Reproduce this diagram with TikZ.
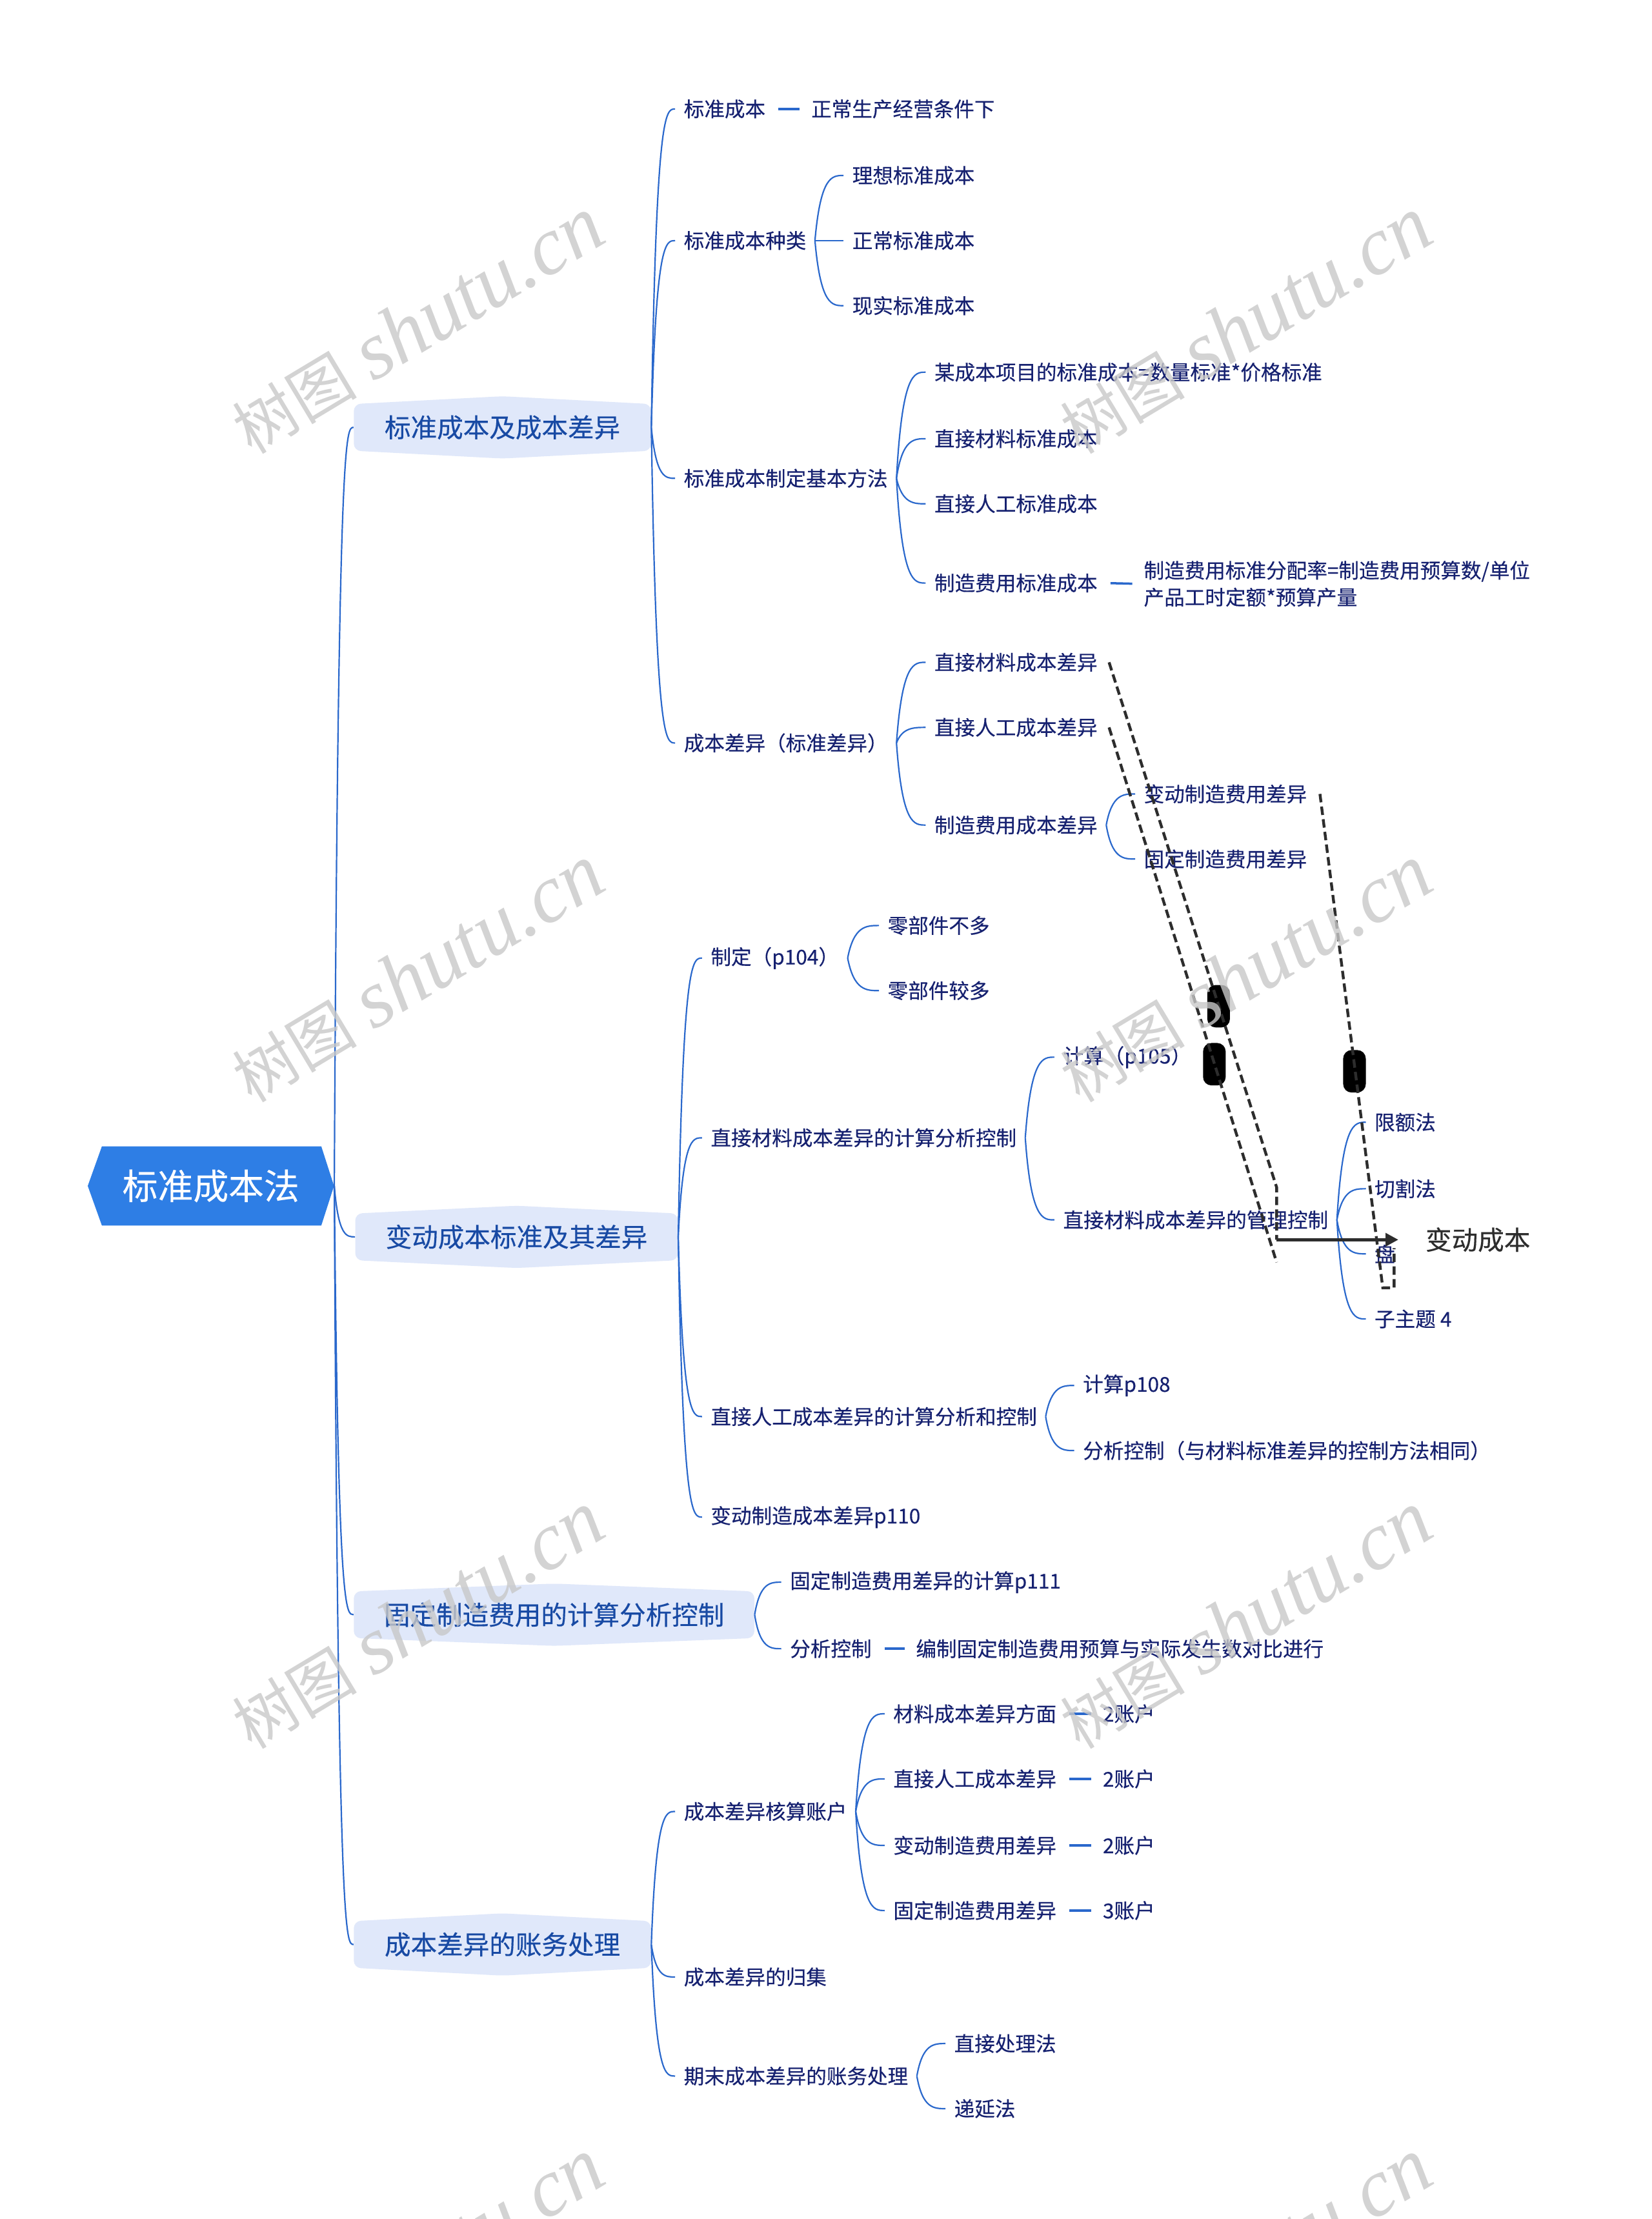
\documentclass[tikz,border=0pt]{standalone}
\usepackage{fontspec}
\setmainfont{Noto Sans CJK SC}[FakeBold=0.3]
\newfontfamily\wmlat{Liberation Serif}
\newfontfamily\wmcjk{Noto Sans CJK SC}
\usetikzlibrary{calc,arrows.meta}
\definecolor{navy}{RGB}{22,33,112}
\definecolor{l1txt}{RGB}{24,74,164}
\definecolor{lnkc}{RGB}{42,104,204}
\definecolor{rootc}{RGB}{46,126,229}
\definecolor{l1fill}{RGB}{224,232,250}
\definecolor{wmc}{RGB}{200,200,200}
\definecolor{dk}{RGB}{45,45,45}
\newcommand\mmlink[2]{\draw[lnk] let \p1=(#1.east),\p2=(#2.west) in (\p1) .. controls ({\x1+0.2*(\x2-\x1)},\y2) and ({\x1+0.6*(\x2-\x1)},\y2) .. (\p2);}
\newcommand\Lone[5]{%
  \fill[l1fill,rounded corners=5pt] (#2,#4-16.5) -- ({(#2+#3)/2},#4-22) -- (#3,#4-16.5) -- (#3,#4+16.5) -- ({(#2+#3)/2},#4+22) -- (#2,#4+16.5) -- cycle;
  \node[l1t,minimum width={(#3)-(#2)}] (#1) at ({(#2+#3)/2},#4) {#5};}
\begin{document}
\begin{tikzpicture}[x=1pt,y=-1pt,
  tx/.style={anchor=west,inner xsep=6pt,inner ysep=2pt,text=navy,font=\fontsize{14.4pt}{19pt}\selectfont},
  l1t/.style={inner sep=0pt,minimum height=33pt,text=l1txt,font=\fontsize{18.5pt}{22pt}\selectfont},
  lnk/.style={draw=lnkc,line width=1pt},
  dsh/.style={draw=lnkc,line width=1.6pt,shorten <=3pt,shorten >=2pt},
  rel/.style={draw=dk,line width=2pt,dash pattern=on 6pt off 3pt},
  handle/.style={fill=black,rounded corners=6pt},
  wm/.style={text=wmc,opacity=0.8,rotate=31,inner sep=0pt}]
\fill[white] (0,0) rectangle (1167,1568);
\useasboundingbox (0,0) rectangle (1167,1568);

% root
\fill[rootc] (62,838) -- (72,810) -- (227,810) -- (236,838) -- (227,866) -- (72,866) -- cycle;
\node[inner sep=0pt,minimum width=174pt,minimum height=56pt,text=white,font=\fontsize{25pt}{30pt}\selectfont] (root) at (149,838) {标准成本法};

% level 1
\Lone{A}{250}{460}{302}{标准成本及成本差异}
\Lone{B}{251}{479}{874}{变动成本标准及其差异}
\Lone{C}{250}{533}{1141}{固定制造费用的计算分析控制}
\Lone{D}{250}{460}{1374}{成本差异的账务处理}

% branch A
\node[tx] (a1) at (477,77) {标准成本};
\node[tx] (a1d) at (567,77) {正常生产经营条件下};
\node[tx] (a2) at (477,170) {标准成本种类};
\node[tx] (a21) at (596,124) {理想标准成本};
\node[tx] (a22) at (596,170) {正常标准成本};
\node[tx] (a23) at (596,216) {现实标准成本};
\node[tx] (a3) at (477,338) {标准成本制定基本方法};
\node[tx] (a31) at (654,263) {某成本项目的标准成本=数量标准*价格标准};
\node[tx] (a32) at (654,310) {直接材料标准成本};
\node[tx] (a33) at (654,356) {直接人工标准成本};
\node[tx] (a34) at (654,412) {制造费用标准成本};
\node[tx,align=left] (a34d) at (802,412.5) {制造费用标准分配率=制造费用预算数/单位\\产品工时定额*预算产量};
\node[tx] (a4) at (477,525) {成本差异（标准差异）};
\node[tx] (a41) at (654,468) {直接材料成本差异};
\node[tx] (a42) at (654,514) {直接人工成本差异};
\node[tx] (a43) at (654,583) {制造费用成本差异};
\node[tx] (a431) at (802,561) {变动制造费用差异};
\node[tx] (a432) at (802,607) {固定制造费用差异};

% branch B
\node[tx] (b1) at (496,677) {制定（p104）};
\node[tx] (b11) at (621,654) {零部件不多};
\node[tx] (b12) at (621,700) {零部件较多};
\node[tx] (b2) at (496,804) {直接材料成本差异的计算分析控制};
\node[tx] (b21) at (745,747) {计算（p105）};
\node[tx] (b22) at (745,862) {直接材料成本差异的管理控制};
\node[tx] (b221) at (965,793) {限额法};
\node[tx] (b222) at (965,840) {切割法};
\node[tx] (b223) at (965,886) {盘};
\node[tx] (b224) at (965,932) {子主题 4};
\node[tx] (b3) at (496,1001) {直接人工成本差异的计算分析和控制};
\node[tx] (b31) at (759,979) {计算p108};
\node[tx] (b32) at (759,1025) {分析控制（与材料标准差异的控制方法相同）};
\node[tx] (b4) at (496,1072) {变动制造成本差异p110};

% branch C
\node[tx] (c1) at (552,1118) {固定制造费用差异的计算p111};
\node[tx] (c2) at (552,1165) {分析控制};
\node[tx] (c2d) at (641,1165) {编制固定制造费用预算与实际发生数对比进行};

% branch D
\node[tx] (d1) at (477,1280) {成本差异核算账户};
\node[tx] (d11) at (625,1211) {材料成本差异方面};
\node[tx] (d11d) at (773,1211) {2账户};
\node[tx] (d12) at (625,1257) {直接人工成本差异};
\node[tx] (d12d) at (773,1257) {2账户};
\node[tx] (d13) at (625,1304) {变动制造费用差异};
\node[tx] (d13d) at (773,1304) {2账户};
\node[tx] (d14) at (625,1350) {固定制造费用差异};
\node[tx] (d14d) at (773,1350) {3账户};
\node[tx] (d2) at (477,1397) {成本差异的归集};
\node[tx] (d3) at (477,1467) {期末成本差异的账务处理};
\node[tx] (d31) at (668,1444) {直接处理法};
\node[tx] (d32) at (668,1490) {递延法};

% connectors
\foreach \c in {A,B,C,D} {\mmlink{root}{\c}}
\foreach \c in {a1,a2,a3,a4} {\mmlink{A}{\c}}
\foreach \c in {a21,a22,a23} {\mmlink{a2}{\c}}
\foreach \c in {a31,a32,a33,a34} {\mmlink{a3}{\c}}
\foreach \c in {a41,a42,a43} {\mmlink{a4}{\c}}
\foreach \c in {a431,a432} {\mmlink{a43}{\c}}
\foreach \c in {b1,b2,b3,b4} {\mmlink{B}{\c}}
\foreach \c in {b11,b12} {\mmlink{b1}{\c}}
\foreach \c in {b21,b22} {\mmlink{b2}{\c}}
\foreach \c in {b221,b222,b223,b224} {\mmlink{b22}{\c}}
\foreach \c in {b31,b32} {\mmlink{b3}{\c}}
\foreach \c in {c1,c2} {\mmlink{C}{\c}}
\foreach \c in {d1,d2,d3} {\mmlink{D}{\c}}
\foreach \c in {d11,d12,d13,d14} {\mmlink{d1}{\c}}
\foreach \c in {d31,d32} {\mmlink{d3}{\c}}

% dash links
\draw[dsh] (a1.east) -- (a1d.west);
\draw[dsh] (a34.east) -- (a34d.west);
\draw[dsh] (c2.east) -- (c2d.west);
\draw[dsh] (d11.east) -- (d11d.west);
\draw[dsh] (d12.east) -- (d12d.west);
\draw[dsh] (d13.east) -- (d13d.west);
\draw[dsh] (d14.east) -- (d14d.west);

% floating relationship lines
\fill[handle] (853,696) rectangle (869,726);
\fill[handle] (850,737) rectangle (866,767);
\fill[handle] (949,742) rectangle (965,772);
\coordinate (e1) at (902,839);
\coordinate (e1b) at (902,876);
\coordinate (e2) at (902,892);
\coordinate (e3a) at (977,910);
\coordinate (e3b) at (985,910);
\coordinate (e3c) at (985,882);
\coordinate (tip) at (988,876);
\draw[rel] ([xshift=2pt]a41.east) -- (e1) -- (e1b);
\draw[rel] ([xshift=2pt]a42.east) -- (e2);
\draw[rel] ([xshift=3pt]a431.east) -- (e3a) -- (e3b) -- (e3c);
\node[anchor=west,inner sep=0pt,text=dk,font=\fontsize{18.5pt}{22pt}\selectfont] (vb) at (1007,876) {变动成本};
\draw[draw=dk,line width=2.2pt,-{Triangle[length=9pt,width=9pt]}] (e1b) -- (tip);

% watermarks
\foreach \wx/\wy in {295/230,880/230,295/688,880/688,295/1145,880/1145,295/1602,880/1602}{
  \node[wm] at (\wx,\wy) {{\wmcjk\fontsize{44pt}{44pt}\selectfont 树图}\hspace{12pt}{\wmlat\itshape\fontsize{58pt}{58pt}\selectfont shutu.cn}};
}
\end{tikzpicture}
\end{document}
